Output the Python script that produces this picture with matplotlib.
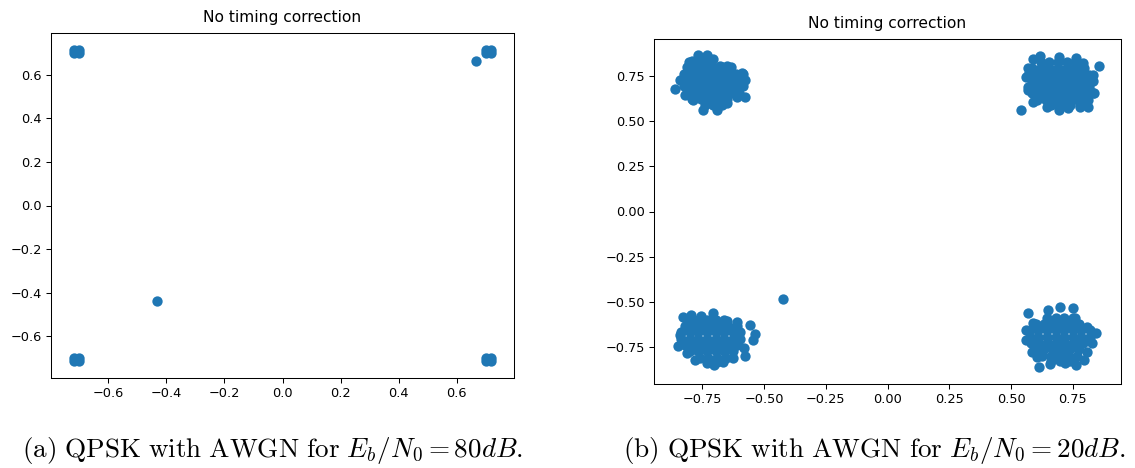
import numpy as np
import matplotlib
matplotlib.use("Agg")
import matplotlib.pyplot as plt

plt.rcParams['mathtext.fontset'] = 'cm'

# (a) Eb/N0 = 80 dB : received symbols
a_x = [-0.717, -0.699, -0.717, -0.699, -0.708,
       0.699, 0.717, 0.699, 0.717, 0.708,
       -0.717, -0.699, -0.717, -0.699, -0.708,
       0.699, 0.717, 0.699, 0.717, 0.708,
       0.666, -0.432]
a_y = [0.701, 0.701, 0.713, 0.713, 0.707,
       0.701, 0.701, 0.713, 0.713, 0.707,
       -0.701, -0.701, -0.713, -0.713, -0.707,
       -0.701, -0.701, -0.713, -0.713, -0.707,
       0.664, -0.440]

# (b) Eb/N0 = 20 dB : outer points of each cloud
ul_edge = [(-0.860, 0.678), (-0.833, 0.729), (-0.803, 0.832), (-0.766, 0.868), (-0.732, 0.868),
           (-0.705, 0.844), (-0.678, 0.807), (-0.649, 0.807), (-0.590, 0.766), (-0.577, 0.729),
           (-0.577, 0.637), (-0.611, 0.637), (-0.651, 0.600), (-0.692, 0.563), (-0.746, 0.563),
           (-0.786, 0.618), (-0.820, 0.646)]
ur_edge = [(0.590, 0.844), (0.617, 0.862), (0.696, 0.859), (0.763, 0.850), (0.793, 0.822),
           (0.856, 0.808), (0.833, 0.757), (0.836, 0.656), (0.813, 0.581), (0.779, 0.581),
           (0.732, 0.572), (0.696, 0.563), (0.644, 0.581), (0.590, 0.609), (0.570, 0.674),
           (0.561, 0.748), (0.570, 0.794), (0.542, 0.564)]
ll_edge = [(-0.829, -0.587), (-0.797, -0.574), (-0.756, -0.580), (-0.708, -0.565), (-0.649, -0.606),
           (-0.611, -0.611), (-0.556, -0.628), (-0.536, -0.679), (-0.543, -0.713), (-0.579, -0.760),
           (-0.575, -0.800), (-0.624, -0.814), (-0.665, -0.833), (-0.702, -0.851), (-0.732, -0.842),
           (-0.779, -0.824), (-0.813, -0.787), (-0.847, -0.746), (-0.840, -0.685), (-0.806, -0.620),
           (-0.422, -0.484)]
lr_edge = [(0.570, -0.561), (0.651, -0.546), (0.698, -0.532), (0.752, -0.537), (0.759, -0.592),
           (0.806, -0.642), (0.844, -0.676), (0.827, -0.728), (0.806, -0.777), (0.796, -0.824),
           (0.763, -0.851), (0.719, -0.838), (0.658, -0.846), (0.615, -0.864), (0.604, -0.805),
           (0.584, -0.777), (0.561, -0.713), (0.561, -0.657), (0.588, -0.617)]

# dense core of each cloud, row by row (y: list of x)
ul_core = {0.835: [-0.79, -0.755, -0.72],
           0.80: [-0.81, -0.775, -0.74, -0.705, -0.67, -0.635],
           0.765: [-0.825, -0.79, -0.755, -0.72, -0.685, -0.65, -0.615, -0.585],
           0.73: [-0.84, -0.805, -0.77, -0.735, -0.70, -0.665, -0.63, -0.595],
           0.695: [-0.825, -0.79, -0.755, -0.72, -0.685, -0.65, -0.615, -0.585],
           0.66: [-0.81, -0.775, -0.74, -0.705, -0.67, -0.635, -0.60],
           0.625: [-0.79, -0.755, -0.72, -0.685, -0.65],
           0.59: [-0.74, -0.705, -0.67]}
ur_core = {0.83: [0.62, 0.655, 0.69, 0.725, 0.76],
           0.795: [0.585, 0.62, 0.655, 0.69, 0.725, 0.76, 0.795],
           0.76: [0.57, 0.605, 0.64, 0.675, 0.71, 0.745, 0.78, 0.815],
           0.725: [0.585, 0.62, 0.655, 0.69, 0.725, 0.76, 0.795, 0.83],
           0.69: [0.57, 0.605, 0.64, 0.675, 0.71, 0.745, 0.78, 0.815],
           0.655: [0.585, 0.62, 0.655, 0.69, 0.725, 0.76, 0.795, 0.83],
           0.62: [0.605, 0.64, 0.675, 0.71, 0.745, 0.78, 0.81],
           0.59: [0.66, 0.70, 0.74, 0.78]}
ll_core = {-0.60: [-0.80, -0.765, -0.73, -0.695, -0.66],
           -0.635: [-0.82, -0.785, -0.75, -0.715, -0.68, -0.645, -0.61],
           -0.67: [-0.835, -0.80, -0.765, -0.73, -0.695, -0.66, -0.625, -0.595],
           -0.705: [-0.835, -0.80, -0.765, -0.73, -0.695, -0.66, -0.625, -0.595],
           -0.74: [-0.82, -0.785, -0.75, -0.715, -0.68, -0.645, -0.61],
           -0.775: [-0.80, -0.765, -0.73, -0.695, -0.66, -0.625],
           -0.81: [-0.76, -0.725, -0.69, -0.655],
           -0.835: [-0.72, -0.69]}
lr_core = {-0.59: [0.645, 0.68, 0.715, 0.75],
           -0.625: [0.60, 0.635, 0.67, 0.705, 0.74, 0.775],
           -0.66: [0.575, 0.61, 0.645, 0.68, 0.715, 0.75, 0.785, 0.82],
           -0.695: [0.575, 0.61, 0.645, 0.68, 0.715, 0.75, 0.785, 0.82],
           -0.73: [0.58, 0.615, 0.65, 0.685, 0.72, 0.755, 0.79],
           -0.765: [0.60, 0.635, 0.67, 0.705, 0.74, 0.775],
           -0.80: [0.625, 0.66, 0.695, 0.73, 0.765],
           -0.83: [0.66, 0.70, 0.74]}

captions = [r"$\mathrm{(a)\ QPSK\ with\ AWGN\ for\ }E_b/N_0 = 80dB\mathrm{.}$",
            r"$\mathrm{(b)\ QPSK\ with\ AWGN\ for\ }E_b/N_0 = 20dB\mathrm{.}$"]

b_pts = ul_edge + ur_edge + ll_edge + lr_edge
for core in [ul_core, ur_core, ll_core, lr_core]:
    for y, xs in core.items():
        b_pts += [(x, y) for x in xs]
b_pts = np.array(b_pts)

dpi = 93
fig = plt.figure(figsize=(1135 / dpi, 468 / dpi), dpi=dpi)

ax1 = fig.add_axes([51 / 1135, 90 / 468, 463 / 1135, 345 / 468])
ax1.scatter(a_x, a_y, s=64, linewidths=0)
ax1.set_xlim(-0.797, 0.797)
ax1.set_ylim(-0.793, 0.793)
ax1.set_title("No timing correction", pad=8.5)

ax2 = fig.add_axes([654 / 1135, 84 / 468, 467 / 1135, 345 / 468])
ax2.scatter(b_pts[:, 0], b_pts[:, 1], s=64, linewidths=0)
ax2.set_xlim(-0.945, 0.945)
ax2.set_ylim(-0.957, 0.957)
ax2.set_title("No timing correction", pad=8.5)

fig.text(273 / 1135, 1 - 457 / 468, captions[0], ha='center', va='baseline', fontsize=21)
fig.text(874 / 1135, 1 - 457 / 468, captions[1], ha='center', va='baseline', fontsize=21)

fig.savefig("out.png", dpi=dpi)
